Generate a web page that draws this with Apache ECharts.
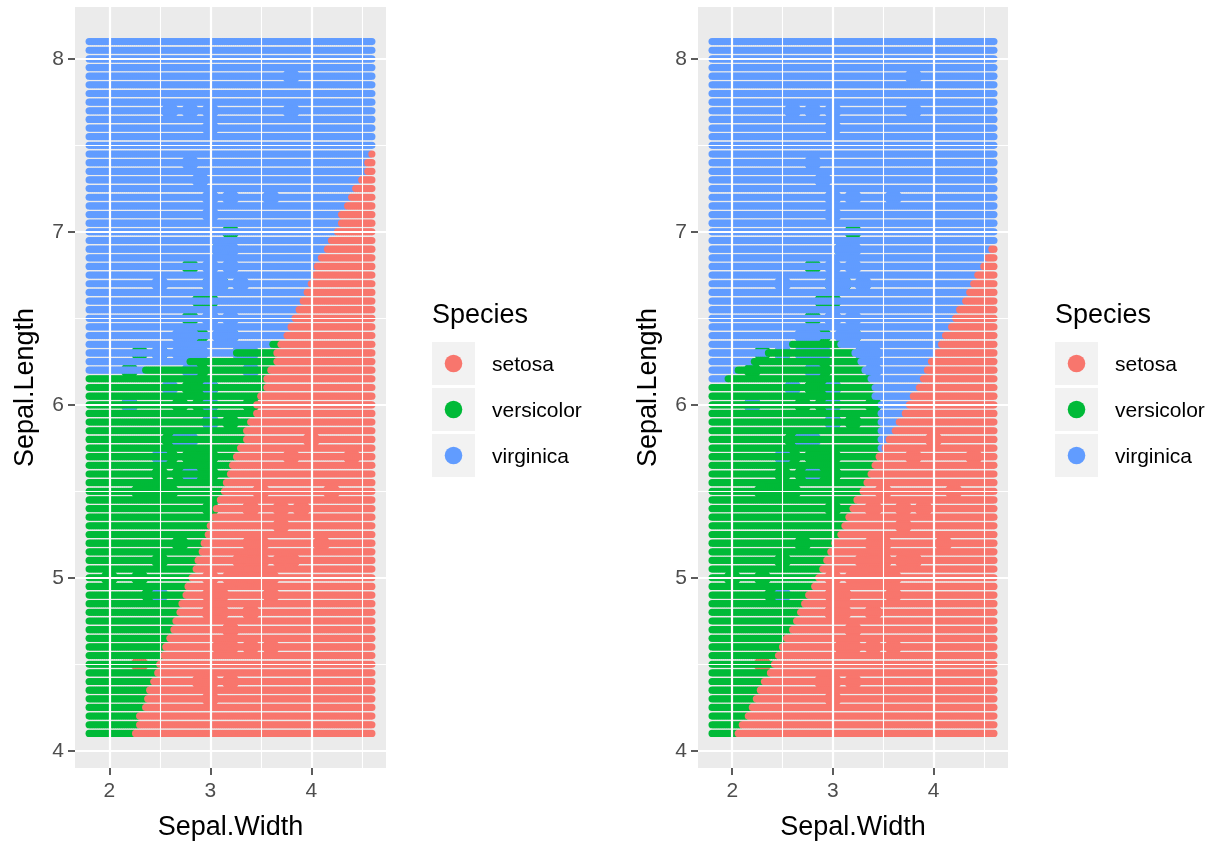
<!DOCTYPE html>
<html>
<head>
<meta charset="utf-8">
<script src="https://cdn.jsdelivr.net/npm/echarts@6/dist/echarts.min.js"></script>
<style>
  html, body { margin: 0; padding: 0; background: #fff; }
  #main { width: 1226px; height: 844px; }
</style>
</head>
<body>
<div id="main"></div>
<script>
// classes: 0 setosa, 1 versicolor, 2 virginica
var speciesNames = ['setosa', 'versicolor', 'virginica'];
var speciesColors = ['#F8766D', '#00BA38', '#619CFF'];

// prediction grid: Sepal.Width 1.8..4.6 by 0.02, Sepal.Length 4.1..8.1 by 0.05
var gridWidth = [1.8, 4.6, 0.02];
var gridLength = [4.1, 8.1, 0.05];

// per grid row (Sepal.Length 4.1 -> 8.1):
// width where virginica (left part) ends, where versicolor ends, where setosa starts
var leftBlueEnd = [
  0,0,0,0,0,0,0,0,0,0, 0,0,0,0,0,0,0,0,0,0, 0,0,0,0,0,0,0,0,0,0,
  0,0,0,0,0,0,0,0,0,0, 0,0,2.35,2.80,3.25,3.62,9,9,9,9,
  9,9,9,9,9,9,9,9,9,9, 9,9,9,9,9,9,9,9,9,9, 9,9,9,9,9,9,9,9,9,9, 9
];
var leftGreenEnd = [
  9,9,9,9,9,9,9,9,9,9, 9,9,9,9,9,9,9,9,9,9, 9,9,9,9,9,9,9,9,9,9,
  9,9,9,9,9,9,9,9,9,9, 9,9,9,9,9,9,9,9,9,9, 9,9,9,9,9,9,9,9,9,9,
  9,9,9,9,9,9,9,9,9,9, 9,9,9,9,9,9,9,9,9,9, 9
];
var leftRedStart = [
  2.25,2.30,2.30,2.35,2.38,2.40,2.44,2.47,2.50,2.53,
  2.56,2.60,2.63,2.66,2.69,2.72,2.75,2.78,2.81,2.85,
  2.88,2.91,2.94,2.97,3.00,3.03,3.06,3.10,3.13,3.16,
  3.19,3.22,3.25,3.30,3.35,3.35,3.40,3.45,3.45,3.50,
  3.55,3.55,3.60,3.65,3.65,3.69,3.75,3.80,3.84,3.88,
  3.92,3.95,3.99,4.03,4.06,4.10,4.15,4.20,4.25,4.30,
  4.30,4.35,4.39,4.44,4.49,4.55,4.55,4.59,9,9,
  9,9,9,9,9,9,9,9,9,9, 9
];

var rightBlueEnd = [
  0,0,0,0,0,0,0,0,0,0, 0,0,0,0,0,0,0,0,0,0, 0,0,0,0,0,0,0,0,0,0,
  0,0,0,0,0,0,0,0,0,0, 0,1.96,2.06,2.21,2.36,2.60,9,9,9,9,
  9,9,9,9,9,9,9,9,9,9, 9,9,9,9,9,9,9,9,9,9, 9,9,9,9,9,9,9,9,9,9, 9
];
var rightGreenEnd = [
  9,9,9,9,9,9,9,9,9,9, 9,9,9,9,9,9,9,9,9,9, 9,9,9,9,9,9,9,9,9,9,
  9,9,3.47,3.47,3.47,3.47,3.47,3.47,3.47,3.42,
  3.42,3.37,3.32,3.27,3.22,3.07,9,9,9,9,
  9,9,9,9,9,9,9,9,9,9, 9,9,9,9,9,9,9,9,9,9, 9,9,9,9,9,9,9,9,9,9, 9
];
var rightRedStart = [
  2.06,2.10,2.15,2.19,2.24,2.28,2.32,2.37,2.41,2.45,
  2.50,2.54,2.59,2.63,2.67,2.72,2.76,2.81,2.85,2.89,
  2.94,2.98,3.02,3.07,3.11,3.16,3.20,3.24,3.29,3.33,
  3.37,3.42,3.46,3.51,3.56,3.61,3.66,3.71,3.75,3.80,
  3.85,3.89,3.94,3.98,4.03,4.08,4.12,4.17,4.21,4.26,
  4.31,4.35,4.40,4.44,4.49,4.54,4.58,9,9,9,
  9,9,9,9,9,9,9,9,9,9, 9,9,9,9,9,9,9,9,9,9, 9
];

// iris observations
var setosaLength = [5.1,4.9,4.7,4.6,5.0,5.4,4.6,5.0,4.4,4.9,5.4,4.8,4.8,4.3,5.8,5.7,5.4,5.1,5.7,5.1,5.4,5.1,4.6,5.1,4.8,5.0,5.0,5.2,5.2,4.7,4.8,5.4,5.2,5.5,4.9,5.0,5.5,4.9,4.4,5.1,5.0,4.5,4.4,5.0,5.1,4.8,5.1,4.6,5.3,5.0];
var setosaWidth  = [3.5,3.0,3.2,3.1,3.6,3.9,3.4,3.4,2.9,3.1,3.7,3.4,3.0,3.0,4.0,4.4,3.9,3.5,3.8,3.8,3.4,3.7,3.6,3.3,3.4,3.0,3.4,3.5,3.4,3.2,3.1,3.4,4.1,4.2,3.1,3.2,3.5,3.6,3.0,3.4,3.5,2.3,3.2,3.5,3.8,3.0,3.8,3.2,3.7,3.3];
var versicolorLength = [7.0,6.4,6.9,5.5,6.5,5.7,6.3,4.9,6.6,5.2,5.0,5.9,6.0,6.1,5.6,6.7,5.6,5.8,6.2,5.6,5.9,6.1,6.3,6.1,6.4,6.6,6.8,6.7,6.0,5.7,5.5,5.5,5.8,6.0,5.4,6.0,6.7,6.3,5.6,5.5,5.5,6.1,5.8,5.0,5.6,5.7,5.7,6.2,5.1,5.7];
var versicolorWidth  = [3.2,3.2,3.1,2.3,2.8,2.8,3.3,2.4,2.9,2.7,2.0,3.0,2.2,2.9,2.9,3.1,3.0,2.7,2.2,2.5,3.2,2.8,2.5,2.8,2.9,3.0,2.8,3.0,2.9,2.6,2.4,2.4,2.7,2.7,3.0,3.4,3.1,2.3,3.0,2.5,2.6,3.0,2.6,2.3,2.7,3.0,2.9,2.9,2.5,2.8];
var virginicaLength = [6.3,5.8,7.1,6.3,6.5,7.6,4.9,7.3,6.7,7.2,6.5,6.4,6.8,5.7,5.8,6.4,6.5,7.7,7.7,6.0,6.9,5.6,7.7,6.3,6.7,7.2,6.2,6.1,6.4,7.2,7.4,7.9,6.4,6.3,6.1,7.7,6.3,6.4,6.0,6.9,6.7,6.9,5.8,6.8,6.7,6.7,6.3,6.5,6.2,5.9];
var virginicaWidth  = [3.3,2.7,3.0,2.9,3.0,3.0,2.5,2.9,2.5,3.6,3.2,2.7,3.0,2.5,2.8,3.2,3.0,3.8,2.6,2.2,3.2,2.8,2.8,2.7,3.3,3.2,2.8,3.0,2.8,3.0,2.8,3.8,2.8,2.8,2.6,3.0,3.4,3.1,3.0,3.1,3.1,3.1,2.7,3.2,3.3,3.0,2.5,3.0,3.4,3.0];

var xTicks = [2, 3, 4];
var xMinor = [2.5, 3.5, 4.5];
var yTicks = [4, 5, 6, 7, 8];
var yMinor = [4.5, 5.5, 6.5, 7.5];

function r2(v) { return Math.round(v * 100) / 100; }

function predictionGrid(blueEnd, greenEnd, redStart) {
  var out = [];
  var nCols = Math.round((gridWidth[1] - gridWidth[0]) / gridWidth[2]);
  var nRows = Math.round((gridLength[1] - gridLength[0]) / gridLength[2]);
  for (var i = 0; i <= nRows; i++) {
    var sl = r2(gridLength[0] + i * gridLength[2]);
    for (var k = 0; k <= nCols; k++) {
      var sw = r2(gridWidth[0] + k * gridWidth[2]);
      var cls;
      if (sw >= redStart[i]) cls = 0;
      else if (sw < blueEnd[i]) cls = 2;
      else if (sw < greenEnd[i]) cls = 1;
      else cls = 2;
      out.push([sw, sl, cls]);
    }
  }
  return out;
}

function irisPoints() {
  var out = [];
  var L = [setosaLength, versicolorLength, virginicaLength];
  var W = [setosaWidth, versicolorWidth, virginicaWidth];
  for (var s = 0; s < 3; s++) {
    for (var j = 0; j < L[s].length; j++) out.push([W[s][j], L[s][j], s]);
  }
  return out;
}

var FONT = '"Liberation Sans", Arial, sans-serif';
var colorOf = function (p) { return speciesColors[p.data[2]]; };

function gridLines(idx) {
  var data = [];
  xTicks.forEach(function (v) { data.push({ xAxis: v, lineStyle: { width: 2.2 } }); });
  xMinor.forEach(function (v) { data.push({ xAxis: v, lineStyle: { width: 1.1 } }); });
  yTicks.forEach(function (v) { data.push({ yAxis: v, lineStyle: { width: 2.2 } }); });
  yMinor.forEach(function (v) { data.push({ yAxis: v, lineStyle: { width: 1.1 } }); });
  return {
    type: 'scatter', xAxisIndex: idx, yAxisIndex: idx, data: [], z: 1, silent: true,
    markLine: {
      silent: true, symbol: ['none', 'none'], label: { show: false },
      lineStyle: { color: '#FFFFFF', type: 'solid' },
      emphasis: { disabled: true }, animation: false, data: data
    }
  };
}

function xAxisFor(idx) {
  return {
    gridIndex: idx, type: 'value', min: 1.66, max: 4.74,
    splitLine: { show: false }, axisLine: { show: false },
    axisTick: { show: true, length: 7, customValues: xTicks, lineStyle: { color: '#333333', width: 1.6 } },
    axisLabel: { customValues: xTicks, color: '#4D4D4D', fontSize: 21, margin: 13, fontFamily: FONT },
    name: 'Sepal.Width', nameLocation: 'middle', nameGap: 46,
    nameTextStyle: { fontSize: 27, color: '#000', fontFamily: FONT }
  };
}
function yAxisFor(idx) {
  return {
    gridIndex: idx, type: 'value', min: 3.9, max: 8.3,
    splitLine: { show: false }, axisLine: { show: false },
    axisTick: { show: true, length: 7, customValues: yTicks, lineStyle: { color: '#333333', width: 1.6 } },
    axisLabel: { customValues: yTicks, color: '#4D4D4D', fontSize: 21, margin: 11, fontFamily: FONT, padding: [3, 0, 0, 0] },
    name: 'Sepal.Length', nameLocation: 'middle', nameGap: 36,
    nameTextStyle: { fontSize: 27, color: '#000', fontFamily: FONT }
  };
}

function pointSeries(idx, data, size, z) {
  return {
    type: 'scatter', xAxisIndex: idx, yAxisIndex: idx, data: data, z: z,
    symbol: 'circle', symbolSize: size, progressive: 0, large: false, silent: true,
    itemStyle: { color: colorOf, opacity: 1 }
  };
}

function legendGraphic(x0) {
  var items = [{ type: 'text', left: x0, top: 302, style: { text: 'Species', fontSize: 27, fill: '#000', font: '27px ' + FONT } }];
  speciesNames.forEach(function (name, i) {
    var top = 342 + i * 46;
    items.push({ type: 'rect', shape: { x: x0, y: top, width: 43, height: 43 }, style: { fill: '#F2F2F2' } });
    items.push({ type: 'circle', shape: { cx: x0 + 21.5, cy: top + 21.5, r: 8.8 }, style: { fill: speciesColors[i] } });
    items.push({ type: 'text', x: x0 + 60, y: top + 23, style: { text: name, font: '21px ' + FONT, fill: '#000', textVerticalAlign: 'middle' } });
  });
  return items;
}

var chart = echarts.init(document.getElementById('main'), null, { renderer: 'canvas' });
var option = {
  animation: false,
  backgroundColor: '#FFFFFF',
  grid: [
    { left: 75, top: 7, width: 311, height: 761, show: true, backgroundColor: '#EBEBEB', borderWidth: 0, outerBoundsMode: 'none', containLabel: false },
    { left: 698, top: 7, width: 310, height: 761, show: true, backgroundColor: '#EBEBEB', borderWidth: 0, outerBoundsMode: 'none', containLabel: false }
  ],
  xAxis: [xAxisFor(0), xAxisFor(1)],
  yAxis: [yAxisFor(0), yAxisFor(1)],
  series: [
    gridLines(0), gridLines(1),
    // observations sit under the prediction grid; they only show through the row gaps
    pointSeries(0, irisPoints(), 17, 2),
    pointSeries(1, irisPoints(), 17, 2),
    pointSeries(0, predictionGrid(leftBlueEnd, leftGreenEnd, leftRedStart), 7.2, 3),
    pointSeries(1, predictionGrid(rightBlueEnd, rightGreenEnd, rightRedStart), 7.2, 3)
  ],
  graphic: legendGraphic(432).concat(legendGraphic(1055))
};
chart.setOption(option);
</script>
</body>
</html>
